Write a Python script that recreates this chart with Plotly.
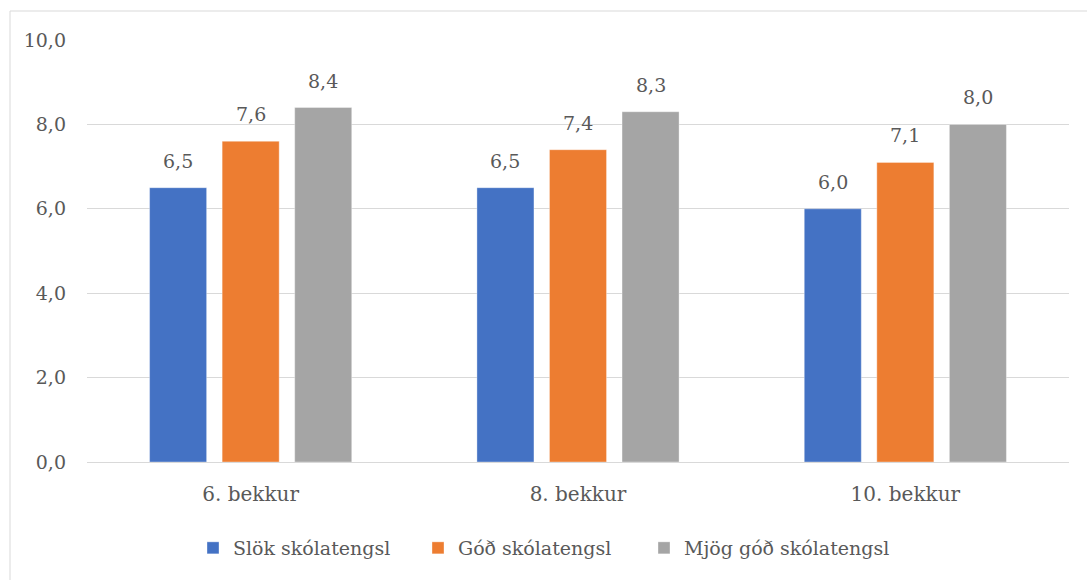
import plotly.graph_objects as go

# Grades and the three school-connectedness groups
categories = ["6. bekkur", "8. bekkur", "10. bekkur"]
series_names = ["Slök skólatengsl", "Góð skólatengsl", "Mjög góð skólatengsl"]
values_slok = [6.5, 6.5, 6.0]
values_god = [7.6, 7.4, 7.1]
values_mjog_god = [8.4, 8.3, 8.0]
tick_values = [0, 2, 4, 6, 8, 10]

colors = ["#4472C4", "#ED7D31", "#A5A5A5"]
text_color = "#595959"
font_family = "DejaVu Serif"

W, H = 1087, 580
margin = dict(l=87, r=18, t=40, b=118)
bargap = 0.335

# each series gets its own legend box so the entries can be spaced evenly
legend_ids = ["legend", "legend2", "legend3"]
legend_text_x = [233, 458, 684]

fig = go.Figure()
all_series = [values_slok, values_god, values_mjog_god]
for name, vals, col, lid in zip(series_names, all_series, colors, legend_ids):
    fig.add_trace(go.Bar(
        x=categories, y=vals, name=name, legend=lid,
        marker=dict(color=col, line=dict(color="rgba(255,255,255,0.35)", width=1)),
    ))

# value labels above every bar
n = len(all_series)
slot = (1 - bargap) / n
for si, vals in enumerate(all_series):
    off = (si - (n - 1) / 2) * slot
    for ci, v in enumerate(vals):
        fig.add_annotation(
            x=ci + off, y=v, xref="x", yref="y",
            text=f"{v:.1f}".replace(".", ","),
            showarrow=False, yanchor="bottom", yshift=14,
            font=dict(family=font_family, size=19, color=text_color),
        )

# thin frame along the top and left edges
pw = W - margin["l"] - margin["r"]
ph = H - margin["t"] - margin["b"]
fx0 = (10 - margin["l"]) / pw
fx1 = (W + 5 - margin["l"]) / pw
fy_top = (H - margin["b"] - 11) / ph
fy_bot = (H - margin["b"] - H - 5) / ph
fig.add_shape(type="line", xref="paper", yref="paper", x0=fx0, x1=fx1, y0=fy_top, y1=fy_top,
              line=dict(color="#D9D9D9", width=1))
fig.add_shape(type="line", xref="paper", yref="paper", x0=fx0, x1=fx0, y0=fy_top, y1=fy_bot,
              line=dict(color="#D9D9D9", width=1))

legend_style = dict(orientation="h", xref="container", xanchor="left",
                    yref="container", y=(H - 548) / H, yanchor="middle",
                    bgcolor="rgba(0,0,0,0)",
                    font=dict(family=font_family, size=19, color=text_color),
                    itemwidth=30)
legends = {lid: dict(legend_style, x=(tx - 40) / W)
           for lid, tx in zip(legend_ids, legend_text_x)}

fig.update_layout(
    width=W, height=H,
    margin=margin,
    paper_bgcolor="white", plot_bgcolor="white",
    barmode="group", bargap=bargap, bargroupgap=0.214,
    separators=", ",
    font=dict(family=font_family, size=19, color=text_color),
    showlegend=True,
    **legends,
    xaxis=dict(showline=True, linecolor="#D9D9D9", linewidth=1, ticks="",
               automargin=False,
               tickfont=dict(family=font_family, size=20, color=text_color),
               ticklabelstandoff=14),
    yaxis=dict(range=[0, 10], tickvals=tick_values, tickformat=".1f",
               showgrid=True, gridcolor="#D9D9D9", gridwidth=1,
               zeroline=False, showline=False, ticks="", automargin=False,
               tickfont=dict(family=font_family, size=19, color=text_color),
               ticklabelstandoff=20),
)

fig.write_html("out.html")
